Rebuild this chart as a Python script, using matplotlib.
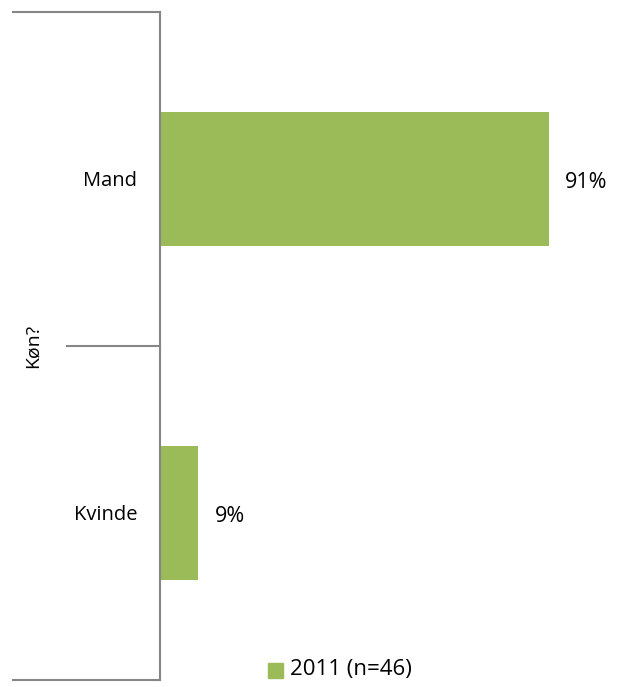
import matplotlib
matplotlib.use("Agg")
import matplotlib.pyplot as plt
import matplotlib.transforms as mtransforms
from matplotlib.patches import Rectangle

categories = ["Mand", "Kvinde"]
values = [91, 9]
series_label = "2011 (n=46)"
axis_title = "Køn?"

green = "#9BBB59"
gray = "#868686"
plt.rcParams['font.family'] = ['Open Sans', 'DejaVu Sans']

W, H = 621, 687
fig = plt.figure(figsize=(W/100, H/100), dpi=100)
left, right = 160/W, 587/W
bottom, top = 7/H, 675/H
ax = fig.add_axes([left, bottom, right-left, top-bottom])

pos = [0.5, 1.5]
ax.barh(pos, values, height=0.4, color=green, zorder=2)
ax.set_xlim(0, 100)
ax.set_ylim(2, 0)
for s in ["top", "right", "bottom"]:
    ax.spines[s].set_visible(False)
ax.spines["left"].set_color(gray)
ax.spines["left"].set_linewidth(1.5)
ax.set_xticks([])
ax.set_yticks([])

for p, c, v in zip(pos, categories, values):
    ax.annotate(c, (0, p), xytext=(-23, -2), textcoords="offset pixels",
                ha="right", va="center", fontsize=14.5, color="black")
    ax.annotate(f"{v}%", (v, p), xytext=(16, -3), textcoords="offset pixels",
                ha="left", va="center", fontsize=15.5, color="black")

# group lines
blend = mtransforms.blended_transform_factory(ax.transAxes, ax.transData)
for y, x0 in [(0, -147/427), (1, -93/427), (2, -147/427)]:
    ax.plot([x0, 0], [y, y], color=gray, lw=1.5, clip_on=False, transform=blend)

fig.text(33/W, 1-346/H, axis_title, rotation=90, ha="center", va="center", fontsize=14)

# legend
fig.patches.append(Rectangle((268/W, 1-678/H), 15/W, 15/H, transform=fig.transFigure, color=green, figure=fig))
fig.text(290/W, 1-669/H, series_label, ha="left", va="center", fontsize=16)

fig.savefig("out.png", dpi=100)
